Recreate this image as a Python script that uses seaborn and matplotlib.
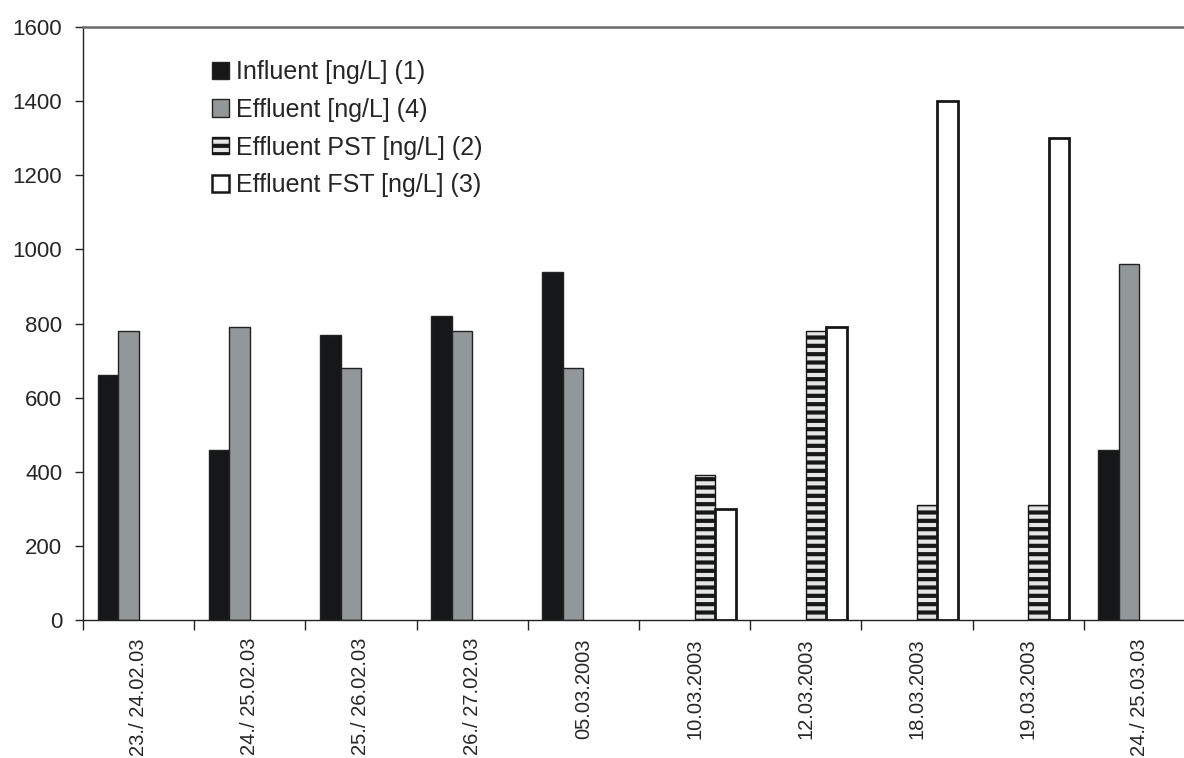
import numpy as np
import pandas as pd
import matplotlib
matplotlib.use("Agg")
import matplotlib.pyplot as plt
from matplotlib.patches import Patch
import seaborn as sns

dates = ["23./ 24.02.03", "24./ 25.02.03", "25./ 26.02.03", "26./ 27.02.03",
         "05.03.2003", "10.03.2003", "12.03.2003", "18.03.2003",
         "19.03.2003", "24./ 25.03.03"]
series_names = ["Influent [ng/L] (1)", "Effluent [ng/L] (4)",
                "Effluent PST [ng/L] (2)", "Effluent FST [ng/L] (3)"]
influent = [660, 460, 770, 820, 940, np.nan, np.nan, np.nan, np.nan, 460]
effluent = [780, 790, 680, 780, 680, np.nan, np.nan, np.nan, np.nan, 960]
effluent_pst = [np.nan, np.nan, np.nan, np.nan, np.nan, 390, 780, 310, 310, np.nan]
effluent_fst = [np.nan, np.nan, np.nan, np.nan, np.nan, 300, 790, 1400, 1300, np.nan]
y_ticks = [0, 200, 400, 600, 800, 1000, 1200, 1400, 1600]

sns.set_theme(style="white")
plt.rcParams["font.family"] = ["Liberation Sans", "DejaVu Sans"]
plt.rcParams["hatch.linewidth"] = 3.0
plt.rcParams["hatch.color"] = "#161718"

rows = []
for name, vals in zip(series_names, [influent, effluent, effluent_pst, effluent_fst]):
    for d, v in zip(dates, vals):
        rows.append({"date": d, "series": name, "value": v})
df = pd.DataFrame(rows)

colors = ["#161718", "#929899", "#ffffff", "#ffffff"]
dark = "#161718"

fig = plt.figure(figsize=(11.84, 7.58), dpi=100)
ax = fig.add_axes([83 / 1184, 138 / 758, 1112 / 1184, 593 / 758])

sns.barplot(data=df, x="date", y="value", hue="series", order=dates,
            hue_order=series_names, palette=colors, width=0.737, gap=0,
            ax=ax, edgecolor="#222222", linewidth=1.0, errorbar=None,
            saturation=1, legend=False)

for i, cont in enumerate(ax.containers):
    for p in cont.patches:
        if i == 2:
            p.set_hatch("--")
            p.set_facecolor("#e6e6e6")
            p.set_edgecolor(dark)
            p.set_linewidth(1.0)
        elif i == 3:
            p.set_linewidth(2.0)
            p.set_edgecolor(dark)

ax.set_xlim(-0.5, 9.5)
ax.set_ylim(0, 1600)
ax.set_yticks(y_ticks)
ax.set_yticklabels([str(t) for t in y_ticks], fontsize=16)
ax.set_xticks(range(len(dates)))
ax.set_xticklabels(dates, rotation=90, fontsize=14.5)
ax.set_xticks(np.arange(-0.5, 10.0, 1.0), minor=True)
ax.tick_params(axis="x", which="major", length=0, pad=13)
ax.tick_params(axis="x", which="minor", length=7, width=1, color="#222222", direction="out", bottom=True)
ax.tick_params(axis="y", length=6, width=1, color="#222222", direction="out", left=True, pad=9)
ax.set_xlabel("")
ax.set_ylabel("")

for s in ["left", "bottom"]:
    ax.spines[s].set_color("#222222")
    ax.spines[s].set_linewidth(1.0)
ax.spines["top"].set_color("#6a6a6a")
ax.spines["top"].set_linewidth(1.8)
ax.spines["right"].set_visible(False)

handles = [
    Patch(facecolor=colors[0], edgecolor="#222222", linewidth=1.0),
    Patch(facecolor=colors[1], edgecolor="#222222", linewidth=1.0),
    Patch(facecolor="#e6e6e6", edgecolor=dark, linewidth=1.0, hatch="--"),
    Patch(facecolor="#ffffff", edgecolor=dark, linewidth=1.8),
]
ax.legend(handles, series_names, loc="upper left", bbox_to_anchor=(212 / 1184, 1 - 60 / 758),
          bbox_transform=fig.transFigure, frameon=False, fontsize=18,
          handlelength=0.68, handleheight=0.68, handletextpad=0.28,
          labelspacing=0.55, borderaxespad=0, borderpad=0)

fig.savefig("out.png", dpi=100)
